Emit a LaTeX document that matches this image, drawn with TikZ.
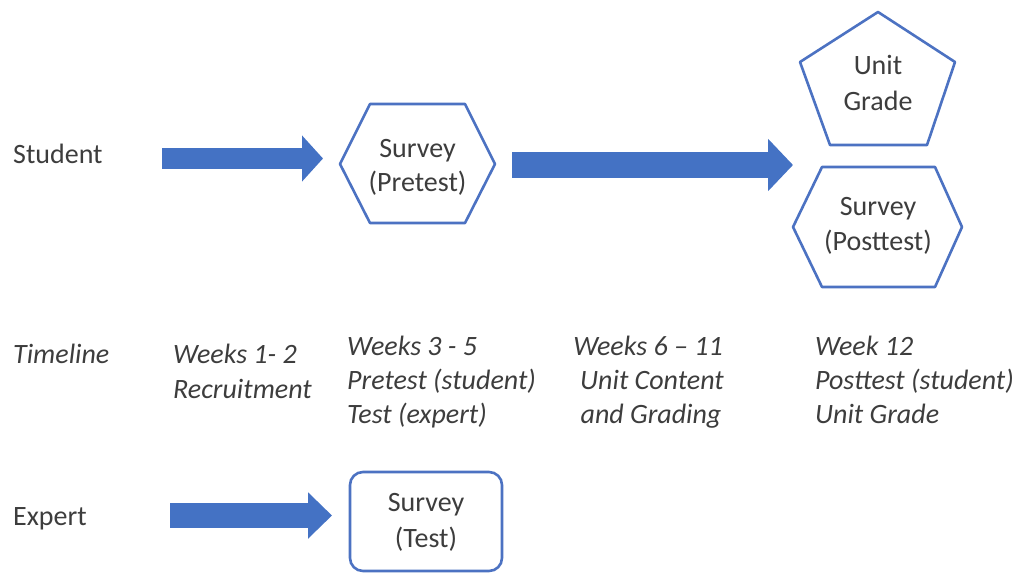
\documentclass[tikz,border=0pt]{standalone}
\usepackage{fontspec}
\setmainfont{Carlito}
\usetikzlibrary{arrows.meta,calc}
\definecolor{arrowblue}{HTML}{4472C4}
\definecolor{edgeblue}{HTML}{4C72C2}
\definecolor{txtgray}{HTML}{3D3D3D}
\tikzset{
  lbl/.style={anchor=base west, inner sep=0pt, text=txtgray, font=\fontsize{28}{34}\selectfont},
  clbl/.style={lbl, anchor=base},
  ilbl/.style={lbl, font=\fontsize{28}{34}\selectfont\itshape},
  iclbl/.style={ilbl, anchor=base},
  shapeline/.style={draw=edgeblue, line width=2.6pt, line join=round, fill=white},
  blockarrow/.style={draw=arrowblue, line width=#1, line cap=butt}
}
\begin{document}
\begin{tikzpicture}[x=1pt,y=-1pt]
\useasboundingbox (0,0) rectangle (1019,573);

% row labels
\node[lbl]  (student)  at (13,163) {Student};
\node[ilbl] (timeline) at (13,363) {Timeline};
\node[lbl]  (expert)   at (13,525) {Expert};

% survey shapes
\draw[shapeline] (340,164) -- (370,104) -- (465,104) -- (495,164) -- (465,223) -- (370,223) -- cycle;
\coordinate (pre) at (340,158.5);
\node[clbl] (pre1) at (417.5,157) {Survey};
\node[clbl] (pre2) at (417.5,191) {(Pretest)};

\draw[shapeline] (878,12) -- (955,62) -- (927,145) -- (830,145) -- (800,62) -- cycle;
\node[clbl] (grade1) at (878,74) {Unit};
\node[clbl] (grade2) at (878,110) {Grade};

\draw[shapeline] (793,227) -- (822,167) -- (935,167) -- (962,227) -- (935,287) -- (822,287) -- cycle;
\node[clbl] (post1) at (878,215) {Survey};
\node[clbl] (post2) at (878,250) {(Posttest)};
\coordinate (post) at (793,165);

\draw[shapeline, rounded corners=13pt] (350,472) rectangle (502,571);
\coordinate (test) at (332,515.5);
\node[clbl] (test1) at (426,511) {Survey};
\node[clbl] (test2) at (426,547) {(Test)};

% block arrows
\coordinate (a1s) at (162,158.5);
\coordinate (a2s) at (512,165);
\coordinate (a3s) at (170,515.5);
\draw[blockarrow=21pt, -{Triangle[length=21pt,width=45pt]}, arrowblue] (a1s) -- (pre -| 323,0);
\draw[blockarrow=26.5pt, -{Triangle[length=25pt,width=51pt]}, arrowblue] (a2s) -- (post);
\draw[blockarrow=25pt, -{Triangle[length=24pt,width=45pt]}, arrowblue] (a3s) -- (test);

% timeline
\node[ilbl] (w12a) at (173,363) {Weeks 1- 2};
\node[ilbl] (w12b) at (173,398) {Recruitment};

\node[ilbl] (w35a) at (347,355) {Weeks 3 - 5};
\node[ilbl] (w35b) at (347,389) {Pretest (student)};
\node[ilbl] (w35c) at (347,423) {Test (expert)};

\node[iclbl] (w611a) at (648,355) {Weeks 6 – 11};
\node[iclbl] (w611b) at (652,389) {Unit Content};
\node[iclbl] (w611c) at (651,423) {and Grading};

\node[ilbl] (wk12a) at (815,355) {Week 12};
\node[ilbl] (wk12b) at (815,389) {Posttest (student)};
\node[ilbl] (wk12c) at (815,423) {Unit Grade};
\end{tikzpicture}
\end{document}
